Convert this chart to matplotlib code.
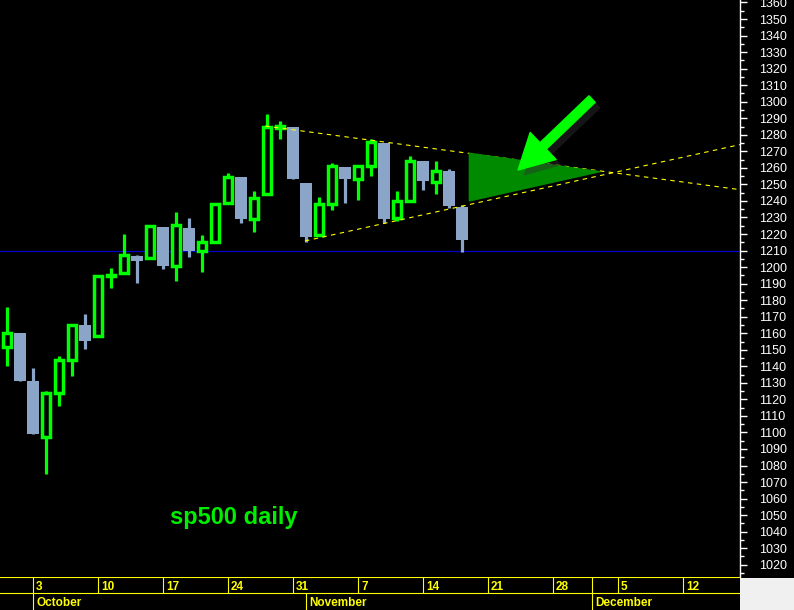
import numpy as np
import matplotlib
matplotlib.use('Agg')
import matplotlib.pyplot as plt
import matplotlib.patheffects as pe
from matplotlib.patches import Rectangle
from matplotlib.ticker import MultipleLocator

plt.rcParams['font.family'] = ['Liberation Sans', 'DejaVu Sans']

# daily OHLC, S&P 500
dates = ['2011-09-28', '2011-09-29', '2011-09-30',
         '2011-10-03', '2011-10-04', '2011-10-05', '2011-10-06', '2011-10-07',
         '2011-10-10', '2011-10-11', '2011-10-12', '2011-10-13', '2011-10-14',
         '2011-10-17', '2011-10-18', '2011-10-19', '2011-10-20', '2011-10-21',
         '2011-10-24', '2011-10-25', '2011-10-26', '2011-10-27', '2011-10-28',
         '2011-10-31', '2011-11-01', '2011-11-02', '2011-11-03', '2011-11-04',
         '2011-11-07', '2011-11-08', '2011-11-09', '2011-11-10', '2011-11-11',
         '2011-11-14', '2011-11-15', '2011-11-16', '2011-11-17']
opens = [1175.4, 1151.7, 1159.9,
         1131.2, 1097.4, 1124.0, 1144.1, 1165.0,
         1158.2, 1194.6, 1196.2, 1207.0, 1205.7,
         1224.5, 1200.8, 1223.5, 1209.9, 1215.4,
         1238.7, 1254.2, 1229.2, 1244.0, 1284.4,
         1285.0, 1251.0, 1219.6, 1238.3, 1260.8,
         1253.2, 1261.1, 1275.2, 1229.6, 1240.1,
         1263.9, 1251.7, 1257.8, 1236.6]
highs = [1184.7, 1175.9, 1160.0,
         1139.0, 1125.1, 1146.1, 1165.6, 1171.4,
         1194.9, 1199.2, 1220.3, 1207.5, 1224.6,
         1224.5, 1233.1, 1229.6, 1219.4, 1239.0,
         1256.6, 1254.2, 1246.3, 1292.7, 1288.5,
         1285.0, 1251.0, 1242.5, 1263.2, 1260.8,
         1261.7, 1277.6, 1275.2, 1246.2, 1267.0,
         1263.9, 1264.3, 1259.6, 1237.7]
lows = [1150.4, 1139.9, 1131.3,
        1098.9, 1074.8, 1115.7, 1134.0, 1150.3,
        1158.2, 1187.3, 1196.2, 1190.6, 1205.7,
        1198.6, 1191.5, 1206.3, 1197.3, 1215.4,
        1238.7, 1226.8, 1221.1, 1244.0, 1277.5,
        1253.2, 1215.4, 1219.6, 1234.8, 1238.9,
        1240.8, 1255.0, 1226.6, 1227.7, 1240.1,
        1246.7, 1244.3, 1235.7, 1209.4]
closes = [1151.1, 1160.4, 1131.4,
          1099.2, 1124.0, 1144.0, 1165.0, 1155.5,
          1194.9, 1195.5, 1207.3, 1203.7, 1224.6,
          1200.9, 1225.4, 1209.9, 1215.4, 1238.3,
          1254.2, 1229.1, 1242.0, 1284.6, 1285.1,
          1253.3, 1218.3, 1237.9, 1261.2, 1253.2,
          1261.1, 1275.9, 1229.1, 1239.7, 1263.9,
          1251.8, 1257.8, 1236.9, 1216.1]

# drawn studies (x in trading days from Oct 3)
upper_trend_x = [17.85, 56.0]
upper_trend_y = [1285.3, 1245.1]
lower_trend_x = [20.92, 56.0]
lower_trend_y = [1215.8, 1276.9]
support_level = 1209.5
triangle_x = [33.56, 33.56, 43.6]
triangle_y = [1268.8, 1240.0, 1257.7]
arrow_tail = (43.0, 1301.6)
arrow_tip = (37.31, 1258.7)

# x axis calendar
week_dates = ['2011-10-03', '2011-10-10', '2011-10-17', '2011-10-24', '2011-10-31',
              '2011-11-07', '2011-11-14', '2011-11-21', '2011-11-28', '2011-12-05',
              '2011-12-12']
week_labels = ['3', '10', '17', '24', '31', '7', '14', '21', '28', '5', '12']
month_dates = ['2011-10-03', '2011-11-01', '2011-12-01']
month_labels = ['October', 'November', 'December']

green = '#00ff00'
blue = '#8aa5c8'
yellow = '#ffff00'

start = '2011-10-03'
x = np.busday_count(start, dates)
o, h, l, c = map(np.array, (opens, highs, lows, closes))
up = c >= o

fig = plt.figure(figsize=(7.94, 6.10), dpi=100, facecolor='black')
ax = fig.add_axes([0, 33 / 610, 740 / 794, 577 / 610], facecolor='black')
xlim = (-2.54, 54.38)
ax.set_xlim(*xlim)
ax.set_ylim(1012.6, 1361.5)

ax.axhline(support_level, color='#0000cc', lw=0.9, zorder=1)

ax.vlines(x, l, h, colors=np.where(up, green, blue), linewidth=2.3, zorder=2)
ax.bar(x[~up], (o - c)[~up], bottom=c[~up], width=0.98, color=blue, zorder=3)
ax.bar(x[up], (c - o)[up], bottom=o[up], width=0.68, facecolor='black',
       edgecolor=green, linewidth=2.5, zorder=3)

ax.plot(upper_trend_x, upper_trend_y, color=yellow, lw=0.8, ls=(0, (4, 4)), zorder=4)
ax.plot(lower_trend_x, lower_trend_y, color=yellow, lw=0.8, ls=(0, (4, 4)), zorder=4)
ax.fill(triangle_x, triangle_y, color='#008a00', zorder=5)

ann = ax.annotate('', xy=arrow_tip, xytext=arrow_tail, zorder=6,
                  arrowprops=dict(arrowstyle='simple,head_length=25,head_width=27,tail_width=6.5',
                                  mutation_scale=1, color=green, shrinkA=0, shrinkB=0))
ann.arrow_patch.set_path_effects([pe.SimplePatchShadow(offset=(4, -4), shadow_rgbFace='#303030', alpha=0.45),
                                  pe.Normal()])

ax.text(170 / 740, 53 / 577, 'sp500 daily', transform=ax.transAxes, color='#00ee00',
        fontsize=17, fontweight='bold', va='baseline')

ax.yaxis.tick_right()
ax.yaxis.set_major_locator(MultipleLocator(10))
ax.yaxis.set_minor_locator(MultipleLocator(5))
ax.tick_params(axis='y', which='major', direction='out', length=5.3, width=1,
               color='white', labelcolor='white', labelsize=9, pad=8.5)
ax.tick_params(axis='y', which='minor', direction='out', length=2.6, width=1, color='white')
ax.tick_params(axis='x', bottom=False, labelbottom=False)
for side in ['top', 'bottom', 'left']:
    ax.spines[side].set_visible(False)
ax.spines['right'].set_color('white')
ax.spines['right'].set_linewidth(1)

# date strip
sax = fig.add_axes([0, 0, 740 / 794, 33 / 610], facecolor='black')
sax.set_xlim(*xlim)
sax.set_ylim(0, 1)
sax.set_xticks([])
sax.set_yticks([])
for s in sax.spines.values():
    s.set_visible(False)
mid = 0.515
sax.axhline(0.985, color=yellow, lw=0.8)
sax.axhline(mid, color=yellow, lw=0.8)
wx = np.busday_count(start, week_dates)
mx = np.busday_count(start, month_dates)
sax.vlines(wx, mid, 1, color=yellow, lw=0.8)
sax.vlines(mx, 0, mid, color=yellow, lw=0.8)
sax.vlines(mx[-1:], mid, 1, color=yellow, lw=0.8)
for xi, lbl in zip(wx, week_labels):
    sax.annotate(lbl, (xi, 0.606), xytext=(2.2, 0), textcoords='offset points',
                 color=yellow, fontsize=8.5, fontweight='bold', va='baseline', ha='left')
for xi, lbl in zip(mx, month_labels):
    sax.annotate(lbl, (xi, 0.121), xytext=(2.2, 0), textcoords='offset points',
                 color=yellow, fontsize=8.5, fontweight='bold', va='baseline', ha='left')

fig.patches.append(Rectangle((740 / 794, 0), 54 / 794, 32 / 610, transform=fig.transFigure,
                             facecolor='#f0f0f0', edgecolor='none', zorder=0))

fig.savefig('out.png', dpi=100, facecolor='black')
